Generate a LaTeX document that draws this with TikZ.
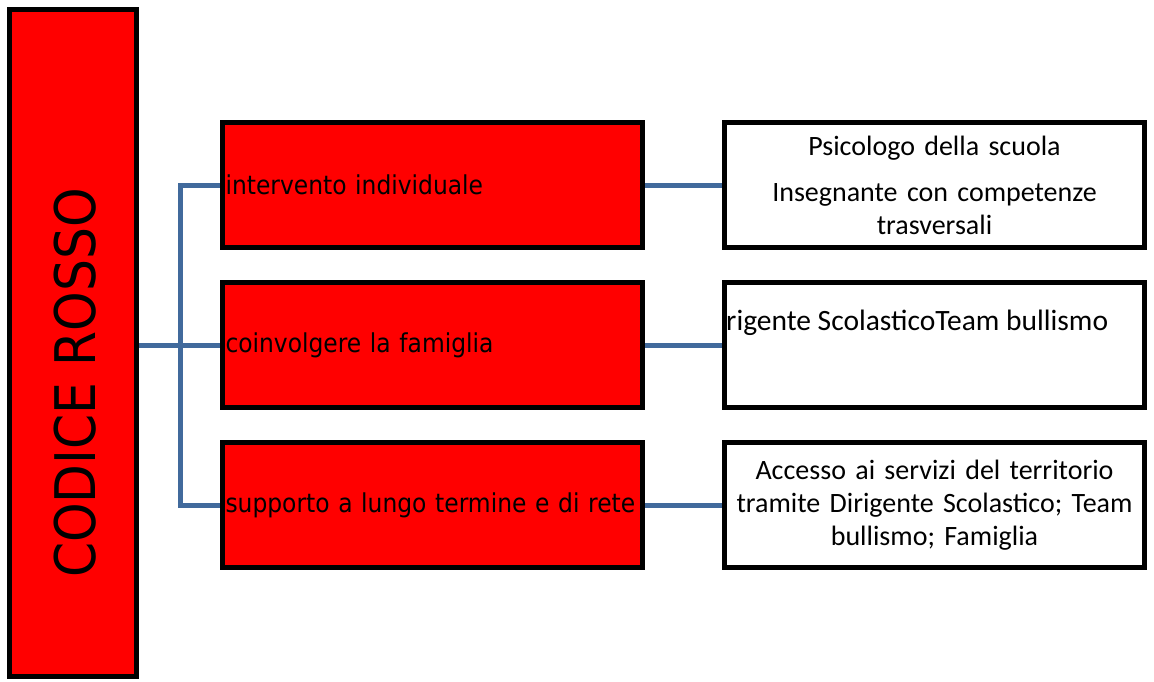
\documentclass[tikz,border=0pt]{standalone}
\usepackage{fontspec}
\setmainfont{Carlito}
\newfontfamily\condfont{DejaVu Sans Condensed}
\usetikzlibrary{backgrounds}
\definecolor{connblue}{RGB}{65,106,156}
\definecolor{boxred}{RGB}{255,0,0}
\tikzset{
  box/.style={draw=black, line width=5pt, rectangle, minimum width=420pt, minimum height=125pt, inner sep=0pt},
  redbox/.style={box, fill=boxred, font=\condfont\fontsize{26}{30}\selectfont, text width=414pt, align=left, inner xsep=3pt},
  whitebox/.style={box, fill=white, font=\fontsize{28}{33}\selectfont, text width=420pt, align=center},
  conn/.style={draw=connblue, line width=5pt}
}
\begin{document}
\begin{tikzpicture}[x=1pt,y=-1pt]
\useasboundingbox (0,0) rectangle (1154,681);
\node[draw=black, fill=boxred, line width=5pt, rectangle, minimum width=127pt, minimum height=667pt, inner sep=0pt] (big) at (73,343) {};
\node[rotate=90, font=\condfont\fontsize{56}{60}\selectfont, inner sep=0pt] (bigtext) at (75,383) {CODICE ROSSO};
\node[redbox] (m1) at (432.5,185) {intervento individuale};
\node[redbox] (m2) at (432.5,345) {coinvolgere la famiglia};
\node[redbox] (m3) at (432.5,505) {\mbox{supporto a lungo termine e di rete}};
\node[whitebox] (r1) at (934.5,185) {Psicologo della scuola\\[13pt]Insegnante con competenze\\trasversali};
\node[whitebox] (r2) at (934.5,345) {};
\node[anchor=west, font=\fontsize{29.5}{34}\selectfont, inner sep=0pt] (r2text) at (726,323) {rigente ScolasticoTeam bullismo};
\node[whitebox] (r3) at (934.5,505) {Accesso ai servizi del territorio\\tramite Dirigente Scolastico; Team\\bullismo; Famiglia};
\coordinate (jt) at (180,185);
\coordinate (jb) at (180,505);
\begin{pgfonlayer}{background}
\draw[conn] (big.east |- m2.west) -- (m2.west);
\draw[conn] (m1.west) -- (jt) -- (jb) -- (m3.west);
\draw[conn] (m1.east) -- (r1.west);
\draw[conn] (m2.east) -- (r2.west);
\draw[conn] (m3.east) -- (r3.west);
\end{pgfonlayer}
\end{tikzpicture}
\end{document}
